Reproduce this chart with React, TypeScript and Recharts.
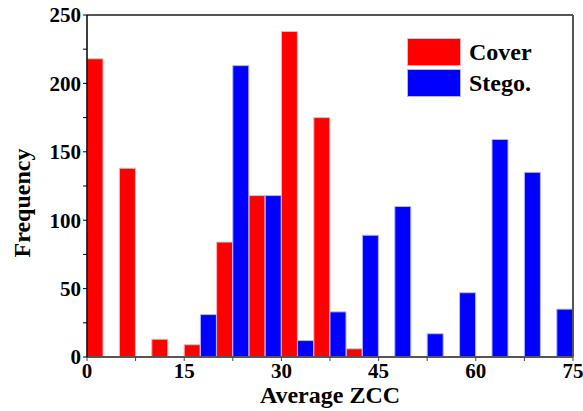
import React from 'react';
import { ComposedChart, Bar, XAxis, YAxis } from 'recharts';

// bin centres (bin width 2.5)
const binCenters = [1.25, 3.75, 6.25, 8.75, 11.25, 13.75, 16.25, 18.75, 21.25, 23.75, 26.25, 28.75, 31.25, 33.75, 36.25, 38.75, 41.25, 43.75, 46.25, 48.75, 51.25, 53.75, 56.25, 58.75, 61.25, 63.75, 66.25, 68.75, 71.25, 73.75];
const coverFreq = [218, null, 138, null, 13, null, 9, null, 84, null, 118, null, 238, null, 175, null, 6, null, null, null, null, null, null, null, null, null, null, null, null, null];
const stegoFreq = [null, null, null, null, null, null, null, 31, null, 213, null, 118, null, 12, null, 33, null, 89, null, 110, null, 17, null, 47, null, 159, null, 135, null, 35];
const xTicks = [0, 7.5, 15, 22.5, 30, 37.5, 45, 52.5, 60, 67.5, 75];
const yTicks = [0, 25, 50, 75, 100, 125, 150, 175, 200, 225, 250];
const legendItems = [
  { name: 'Cover', color: '#ff0000', edge: '#ffb4b4' },
  { name: 'Stego.', color: '#0000ff', edge: '#b4b4ff' },
];

const data = binCenters.map((x, i) => ({ x, cover: coverFreq[i], stego: stegoFreq[i] }));

const FONT = '"Liberation Serif", "Times New Roman", serif';

const tickStyle = { fontFamily: FONT, fontWeight: 700, fontSize: 21, fill: '#000' };

export default function App() {
  return (
    <div style={{ position: 'fixed', left: 0, top: 0, width: 583, height: 411, background: '#fff' }}>
      <ComposedChart
        width={583}
        height={411}
        data={data}
        margin={{ top: 0, right: 0, left: 0, bottom: 0 }}
        barCategoryGap={0}
        barGap={0}
      >
        <XAxis
          dataKey="x"
          type="number"
          domain={[0, 75]}
          ticks={xTicks}
          interval={0}
          height={54}
          tickSize={4}
          tickLine={{ stroke: '#444', strokeWidth: 1 }}
          axisLine={{ stroke: '#555', strokeWidth: 2 }}
          tick={tickStyle}
          tickFormatter={(v: number) => (v % 15 === 0 ? String(v) : '')}
          label={{
            content: () => (
              <text x={330} y={403} textAnchor="middle" style={{ fontFamily: FONT, fontWeight: 700, fontSize: 24 }} fill="#000">
                Average ZCC
              </text>
            ),
          }}
        />
        <XAxis
          xAxisId="top"
          orientation="top"
          dataKey="x"
          type="number"
          domain={[0, 75]}
          ticks={xTicks}
          interval={0}
          height={15}
          tickSize={-4}
          tickLine={{ stroke: '#444', strokeWidth: 1 }}
          axisLine={{ stroke: '#555', strokeWidth: 2 }}
          tick={false}
        />
        <YAxis
          type="number"
          domain={[0, 250]}
          ticks={yTicks}
          interval={0}
          width={87}
          tickSize={4}
          tickLine={{ stroke: '#000', strokeWidth: 1 }}
          axisLine={{ stroke: '#000', strokeWidth: 1.5 }}
          tick={tickStyle}
          tickFormatter={(v: number) => (v % 50 === 0 ? String(v) : '')}
          label={{
            content: () => (
              <text
                x={22}
                y={203}
                textAnchor="middle"
                dominantBaseline="central"
                transform="rotate(-90, 22, 203)"
                style={{ fontFamily: FONT, fontWeight: 700, fontSize: 24 }}
                fill="#000"
              >
                Frequency
              </text>
            ),
          }}
        />
        <YAxis
          yAxisId="right"
          orientation="right"
          type="number"
          domain={[0, 250]}
          ticks={yTicks}
          interval={0}
          width={10}
          tickSize={-4}
          tickLine={{ stroke: '#444', strokeWidth: 1 }}
          axisLine={{ stroke: '#555', strokeWidth: 2 }}
          tick={false}
        />
        <Bar dataKey="cover" stackId="h" fill="#ff0000" stroke="#ffb4b4" strokeWidth={1} isAnimationActive={false} />
        <Bar dataKey="stego" stackId="h" fill="#0000ff" stroke="#b4b4ff" strokeWidth={1} isAnimationActive={false} />
      </ComposedChart>
      <div style={{ position: 'absolute', left: 408, top: 36 }}>
        {legendItems.map((it, i) => (
          <div key={it.name} style={{ display: 'flex', alignItems: 'center', height: 31, marginBottom: i === 0 ? 0 : 0 }}>
            <div style={{ width: 52, height: 26, background: it.color, boxShadow: `0 0 0 1px ${it.edge}` }} />
            <span style={{ marginLeft: 9, fontFamily: FONT, fontWeight: 700, fontSize: 24, color: '#000', lineHeight: '26px' }}>
              {it.name}
            </span>
          </div>
        ))}
      </div>
    </div>
  );
}
